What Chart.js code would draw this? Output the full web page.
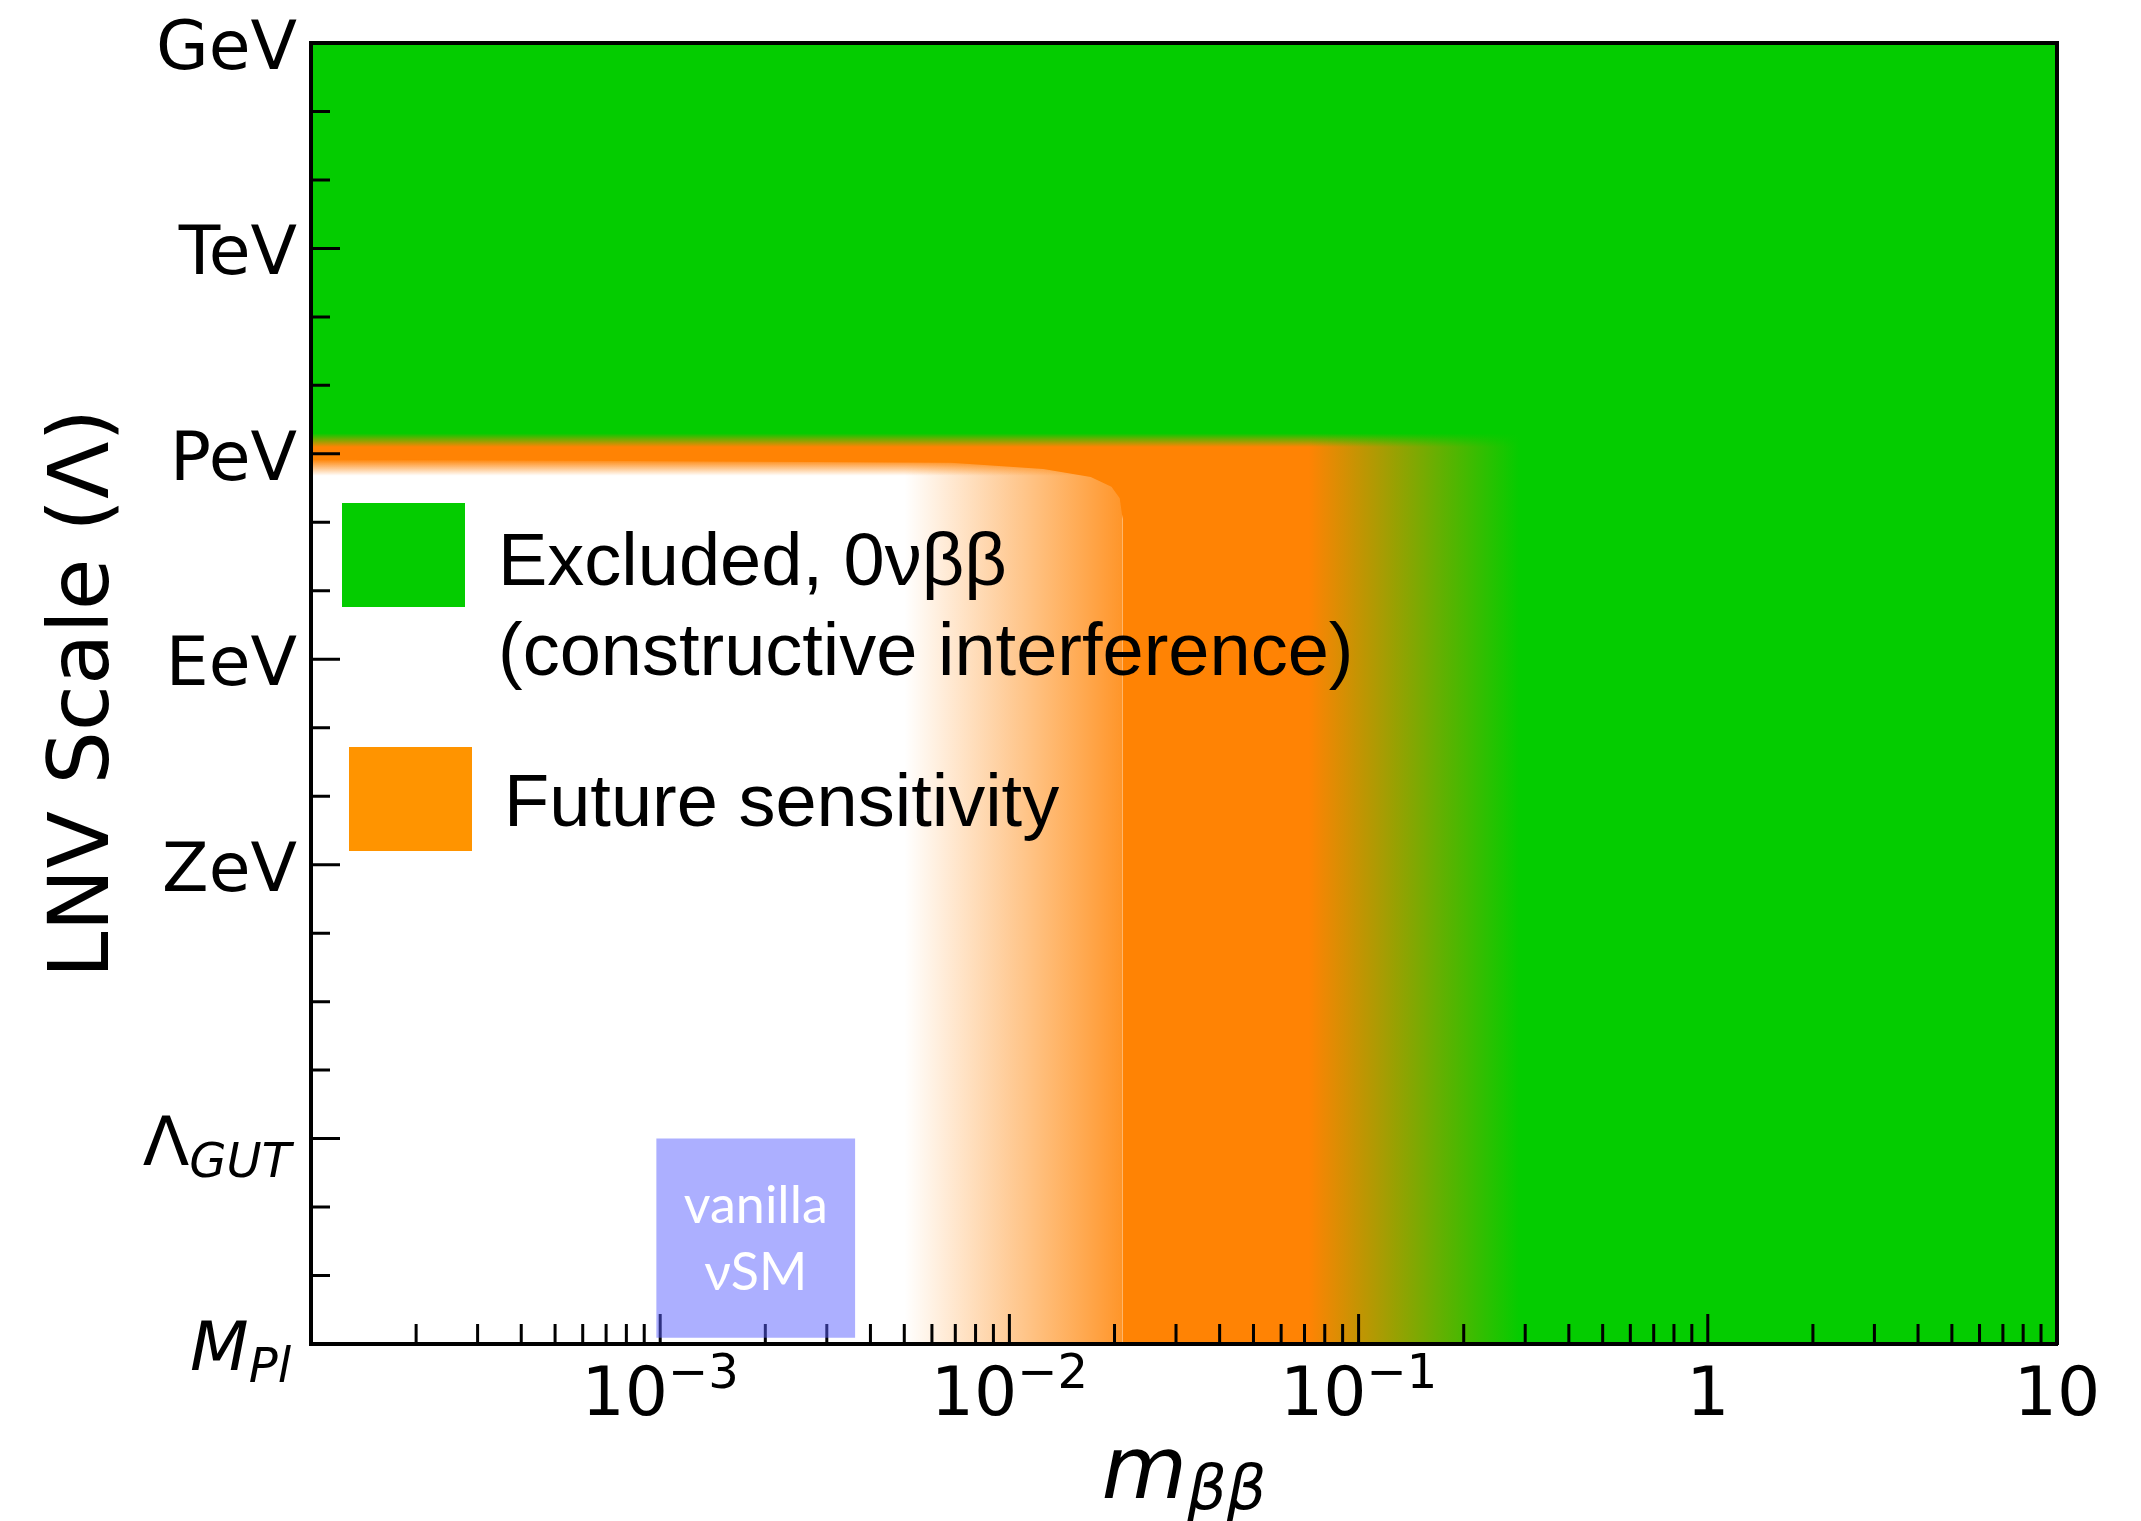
<!DOCTYPE html>
<html>
<head>
<meta charset="utf-8">
<title>LNV scale vs m_bb</title>
<script src="https://cdn.jsdelivr.net/npm/chart.js@4.4.1/dist/chart.umd.min.js"></script>
<style>
	html, body { margin: 0; padding: 0; background: #fff; }
	canvas { display: block; }
</style>
</head>
<body>
<canvas id="lnvChart" width="2141" height="1521"></canvas>
<script>
// x axis: m_bb, log scale
const massMin = 1e-4;
const massMax = 10;
const massLabelValues = [1e-3, 1e-2, 1e-1, 1, 10];
const massLabelBase = ['10', '10', '10', '1', '10'];
const massLabelExp = ['\u22123', '\u22122', '\u22121', '', ''];

// y axis: log10(Lambda / GeV), GeV on top
const scaleMin = 0;
const scaleMax = 19;
const scaleLabelValues = [0, 3, 6, 9, 12, 16, 19];
const scaleLabelMain = ['GeV', 'TeV', 'PeV', 'EeV', 'ZeV', '\u039B', 'M'];
const scaleLabelSub = ['', '', '', '', '', 'GUT', 'Pl'];

// excluded region: top band and right block
const excludedBandX = [1e-4, 10];
const excludedBandY = [5.95, 5.95];
const excludedBlockX = [0.072, 10];
const excludedBlockY = [19, 19];

// future sensitivity: edge with rounded corner near 0.02
const futureEdgeX = [1e-4, 0.0068, 0.0125, 0.0171, 0.0196, 0.0207, 0.0211, 0.0211, 10];
const futureEdgeY = [6.08, 6.13, 6.22, 6.34, 6.48, 6.65, 6.95, 19, 19];
// soft lower edge of the band, faded strip left of the edge
const futureFadeX = [1e-4, 0.0211];
const futureFadeY = [6.4, 6.4];
const futureTailX = [0.005, 0.0211];
const futureTailY = [19, 19];

// vanilla nuSM box
const vanillaX = [0.000974, 0.00362];
const vanillaBottom = [18.91, 18.91];
const vanillaTop = 16;

const GREEN = '4,204,0';
const ORANGE = '255,131,4';

const zip = (xs, ys) => xs.map((x, i) => ({x: x, y: ys[i]}));

function hGrad(chart, x0, x1, c0, c1) {
	const {ctx, chartArea, scales} = chart;
	if (!chartArea) return null;
	const g = ctx.createLinearGradient(scales.x.getPixelForValue(x0), 0, scales.x.getPixelForValue(x1), 0);
	g.addColorStop(0, c0);
	g.addColorStop(1, c1);
	return g;
}
function vGrad(chart, y0, y1, c0, c1) {
	const {ctx, chartArea, scales} = chart;
	if (!chartArea) return null;
	const g = ctx.createLinearGradient(0, scales.y.getPixelForValue(y0), 0, scales.y.getPixelForValue(y1));
	g.addColorStop(0, c0);
	g.addColorStop(1, c1);
	return g;
}

const base = {
	type: 'line', xAxisID: 'x', yAxisID: 'y',
	pointRadius: 0, borderWidth: 0, borderColor: 'rgba(0,0,0,0)', tension: 0
};

// axis ticks, drawn after the fills but under the vanilla box
const tickPlugin = {
	id: 'inTicks',
	afterDatasetDraw(chart, args) {
		if (chart.data.datasets[args.index].label !== 'excluded block') return;
		const {ctx, chartArea, scales} = chart;
		ctx.save();
		ctx.strokeStyle = '#000';
		ctx.lineWidth = 3;
		ctx.beginPath();
		for (let e = -4; e <= 0; e++) {
			for (let k = 1; k <= 9; k++) {
				const px = scales.x.getPixelForValue(k * Math.pow(10, e));
				const len = k === 1 ? 30 : 20;
				ctx.moveTo(px, chartArea.bottom);
				ctx.lineTo(px, chartArea.bottom - len);
			}
		}
		for (let v = scaleMin; v <= scaleMax; v++) {
			const py = scales.y.getPixelForValue(v);
			const len = scaleLabelValues.includes(v) ? 29 : 19;
			ctx.moveTo(chartArea.left, py);
			ctx.lineTo(chartArea.left + len, py);
		}
		ctx.stroke();
		ctx.restore();
	}
};

// tick labels, axis titles, legend, box text
const textPlugin = {
	id: 'texts',
	afterDraw(chart) {
		const {ctx, chartArea, scales} = chart;
		ctx.save();
		ctx.fillStyle = '#000';
		ctx.textBaseline = 'alphabetic';

		// x tick labels
		massLabelValues.forEach((v, i) => {
			const px = scales.x.getPixelForValue(v);
			ctx.font = '68px "DejaVu Sans"';
			const wb = ctx.measureText(massLabelBase[i]).width;
			ctx.font = '48px "DejaVu Sans"';
			const we = massLabelExp[i] ? ctx.measureText(massLabelExp[i]).width : 0;
			const start = px - (wb + we) / 2;
			ctx.textAlign = 'left';
			ctx.font = '68px "DejaVu Sans"';
			ctx.fillText(massLabelBase[i], start, chartArea.bottom + 71);
			if (we) {
				ctx.font = '48px "DejaVu Sans"';
				ctx.fillText(massLabelExp[i], start + wb, chartArea.bottom + 44);
			}
		});

		// y tick labels
		scaleLabelValues.forEach((v, i) => {
			const py = scales.y.getPixelForValue(v);
			const right = chartArea.left - (scaleLabelSub[i] ? 20 : 14);
			ctx.textAlign = 'right';
			let ws = 0;
			if (scaleLabelSub[i]) {
				ctx.font = 'italic 48px "DejaVu Sans"';
				ws = ctx.measureText(scaleLabelSub[i]).width;
				ctx.fillText(scaleLabelSub[i], right, py + 38);
			}
			ctx.font = (scaleLabelMain[i] === 'M' ? 'italic ' : '') + '68px "DejaVu Sans"';
			ctx.fillText(scaleLabelMain[i], right - ws, py + 26);
		});

		// y title
		ctx.save();
		ctx.translate(108, (chartArea.top + chartArea.bottom) / 2);
		ctx.rotate(-Math.PI / 2);
		ctx.textAlign = 'center';
		ctx.font = '84px "DejaVu Sans"';
		ctx.fillText('LNV Scale (\u039B)', 0, 0);
		ctx.restore();

		// x title m_bb
		ctx.textAlign = 'left';
		ctx.font = 'italic 88px "DejaVu Sans"';
		const wm = ctx.measureText('m').width;
		ctx.font = 'italic 62px "DejaVu Sans"';
		const wbb = ctx.measureText('\u03B2\u03B2').width;
		const xs = (chartArea.left + chartArea.right) / 2 - (wm + wbb) / 2;
		ctx.font = 'italic 88px "DejaVu Sans"';
		ctx.fillText('m', xs, chartArea.bottom + 154);
		ctx.font = 'italic 62px "DejaVu Sans"';
		ctx.fillText('\u03B2\u03B2', xs + wm, chartArea.bottom + 165);

		// legend
		const lx = chartArea.left, ly = chartArea.top;
		ctx.fillStyle = 'rgb(' + GREEN + ')';
		ctx.fillRect(lx + 31, ly + 460, 123, 104);
		ctx.fillStyle = '#ff9400';
		ctx.fillRect(lx + 38, ly + 704, 123, 104);
		ctx.fillStyle = '#000';
		ctx.font = '74px "Liberation Sans", Arial, sans-serif';
		ctx.fillText('Excluded, 0\u03BD\u03B2\u03B2', lx + 187, ly + 542);
		ctx.fillText('(constructive interference)', lx + 187, ly + 632);
		ctx.fillText('Future sensitivity', lx + 193, ly + 783);

		// vanilla box text
		const bx = (scales.x.getPixelForValue(vanillaX[0]) + scales.x.getPixelForValue(vanillaX[1])) / 2;
		const by = scales.y.getPixelForValue(vanillaTop);
		ctx.fillStyle = '#fff';
		ctx.textAlign = 'center';
		ctx.font = '52px Lato';
		ctx.fillText('vanilla', bx, by + 84);
		ctx.fillText('\u03BDSM', bx, by + 151);
		ctx.restore();
	}
};

const frame = {display: true, color: '#000', width: 4, z: 1};

new Chart(document.getElementById('lnvChart'), {
	type: 'line',
	data: {
		datasets: [
			{...base, label: 'future tail', order: 6, data: zip(futureTailX, futureTailY), fill: {value: scaleMin},
				backgroundColor: (c) => hGrad(c.chart, futureTailX[0], futureTailX[1], 'rgba(' + ORANGE + ',0)', 'rgba(' + ORANGE + ',0.85)')},
			{...base, label: 'future fade', order: 5, data: zip(futureFadeX, futureFadeY), fill: {value: scaleMin},
				backgroundColor: (c) => vGrad(c.chart, 6.08, 6.32, 'rgba(' + ORANGE + ',1)', 'rgba(' + ORANGE + ',0)')},
			{...base, label: 'Future sensitivity', order: 4, data: zip(futureEdgeX, futureEdgeY), fill: {value: scaleMin},
				backgroundColor: 'rgb(' + ORANGE + ')'},
			{...base, label: 'excluded band', order: 3, data: zip(excludedBandX, excludedBandY), fill: {value: scaleMin},
				backgroundColor: (c) => vGrad(c.chart, 5.7, 5.9, 'rgba(' + GREEN + ',1)', 'rgba(' + GREEN + ',0)')},
			{...base, label: 'excluded block', order: 2, data: zip(excludedBlockX, excludedBlockY), fill: {value: scaleMin},
				backgroundColor: (c) => hGrad(c.chart, 0.072, 0.29, 'rgba(' + GREEN + ',0)', 'rgba(' + GREEN + ',1)')},
			{...base, label: 'vanilla nuSM', order: 1, data: zip(vanillaX, vanillaBottom), fill: {value: vanillaTop},
				backgroundColor: 'rgba(90,96,255,0.5)'}
		]
	},
	options: {
		responsive: false,
		animation: false,
		devicePixelRatio: 1,
		events: [],
		layout: {padding: 0},
		plugins: {legend: {display: false}, tooltip: {enabled: false}},
		scales: {
			x: {type: 'logarithmic', position: 'bottom', min: massMin, max: massMax,
				ticks: {display: false}, grid: {display: false}, border: frame,
				afterFit: (s) => { s.height = 177; }},
			y: {type: 'linear', position: 'left', reverse: true, min: scaleMin, max: scaleMax,
				ticks: {display: false, stepSize: 1}, grid: {display: false}, border: frame,
				afterFit: (s) => { s.width = 311; }},
			x2: {type: 'linear', axis: 'x', position: 'top', min: 0, max: 1,
				ticks: {display: false}, grid: {display: false}, border: frame,
				afterFit: (s) => { s.height = 43; }},
			y2: {type: 'linear', axis: 'y', position: 'right', min: 0, max: 1,
				ticks: {display: false}, grid: {display: false}, border: frame,
				afterFit: (s) => { s.width = 84; }}
		}
	},
	plugins: [tickPlugin, textPlugin]
});
</script>
</body>
</html>
